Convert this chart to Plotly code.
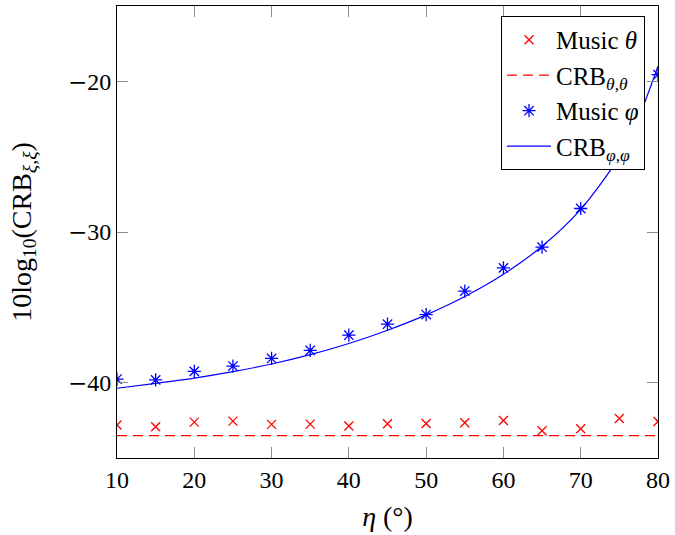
import plotly.graph_objects as go

# Elevation angle eta (degrees)
eta = [10, 15, 20, 25, 30, 35, 40, 45, 50, 55, 60, 65, 70, 75, 80]

# MUSIC estimates, 10log10 of the MSE
music_theta = [-42.81, -42.93, -42.62, -42.55, -42.77, -42.75, -42.88, -42.73,
               -42.71, -42.66, -42.51, -43.19, -43.06, -42.38, -42.58]
music_phi = [-39.76, -39.82, -39.25, -38.90, -38.39, -37.86, -36.85, -36.12,
             -35.48, -33.92, -32.38, -31.01, -28.44, -24.40, -19.56]

# Cramer-Rao bounds
crb_theta = [-43.52] * len(eta)
crb_eta = [10, 15, 20, 25, 30, 35, 40, 45, 50, 55, 60, 65, 70, 75, 77.5, 80]
crb_phi = [-40.37, -40.05, -39.70, -39.27, -38.76, -38.14, -37.40, -36.52,
           -35.50, -34.28, -32.80, -30.95, -28.50, -25.00, -22.40, -19.00]

y_ticks = [-40, -30, -20]

RED = "rgb(255,0,0)"
BLUE = "rgb(0,0,255)"
FONT = "Liberation Serif"

# wide minus sign for the y tick labels
MINUS = '<span style="font-family:DejaVu Serif;font-size:23px">−</span>'

fig = go.Figure()
fig.add_trace(go.Scatter(
    x=eta, y=music_theta, mode="markers", name="Music <i>θ</i>",
    marker=dict(symbol="x-thin-open", size=9, color=RED,
                line=dict(color=RED, width=1.3)),
))
fig.add_trace(go.Scatter(
    x=eta, y=crb_theta, mode="lines", name="CRB<sub><i>θ</i>,<i>θ</i></sub>",
    line=dict(color=RED, width=1.2, dash="10px,6px"),
))
fig.add_trace(go.Scatter(
    x=eta, y=music_phi, mode="markers", name="Music <i>φ</i>",
    marker=dict(symbol="asterisk-open", size=11, color=BLUE,
                line=dict(color=BLUE, width=1.3)),
))
fig.add_trace(go.Scatter(
    x=crb_eta, y=crb_phi, mode="lines", name="CRB<sub><i>φ</i>,<i>φ</i></sub>",
    line=dict(color=BLUE, width=1.2, shape="spline", smoothing=0.8),
))

axis_common = dict(
    showgrid=False, zeroline=False, showline=True, linecolor="black",
    linewidth=1, mirror="ticks", ticks="inside", ticklen=11, tickwidth=1,
    tickcolor="#8c8c8c", tickfont=dict(family=FONT, size=24, color="black"),
)

fig.update_layout(
    width=675, height=535,
    margin=dict(l=117, r=13, t=5, b=77),
    paper_bgcolor="white", plot_bgcolor="white",
    font=dict(family=FONT, color="black"),
    showlegend=True,
    legend=dict(
        x=0.976, y=0.978, xanchor="right", yanchor="top",
        bgcolor="white", bordercolor="black", borderwidth=1,
        font=dict(family=FONT, size=25, color="black"),
        tracegroupgap=0, itemwidth=44,
    ),
    xaxis=dict(
        range=[10, 80], tickvals=[10, 20, 30, 40, 50, 60, 70, 80],
        title=dict(text="<i>η</i> (°)", font=dict(family=FONT, size=28),
                   standoff=14),
        **axis_common,
    ),
    yaxis=dict(
        range=[-45, -15], tickvals=y_ticks,
        ticktext=[MINUS + str(abs(v)) for v in y_ticks],
        title=dict(text="10log<sub>10</sub>(CRB<sub><i>ξ</i>,<i>ξ</i></sub>)",
                   font=dict(family=FONT, size=28), standoff=28),
        **axis_common,
    ),
)

fig.write_html("out.html")
